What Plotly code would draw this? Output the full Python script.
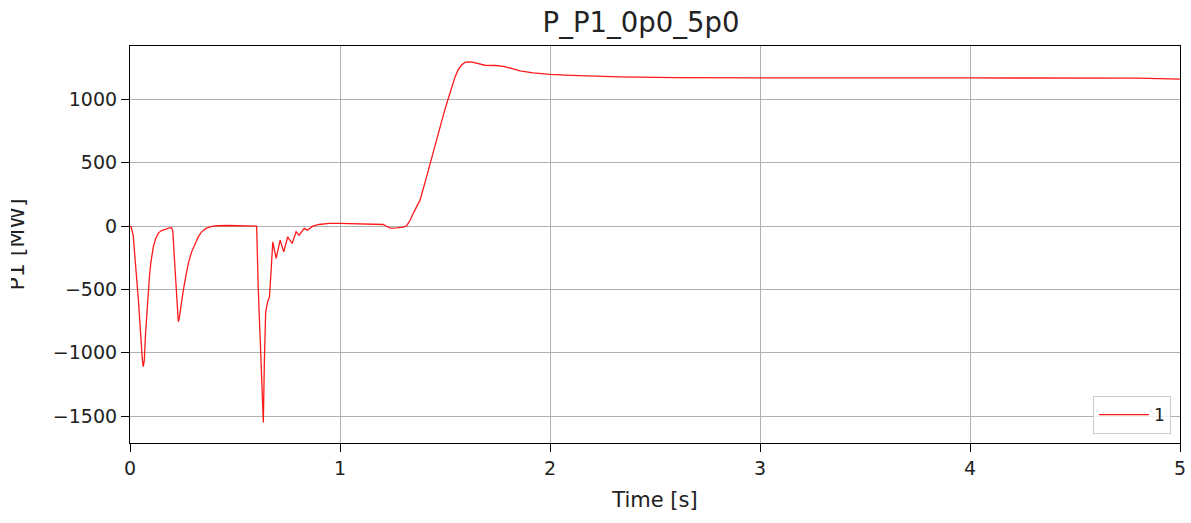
import plotly.graph_objects as go

# ---- data ----
time_s = [0.000, 0.005, 0.015, 0.024, 0.032, 0.040, 0.047, 0.053, 0.059, 0.063,
          0.068, 0.074, 0.080, 0.087, 0.093, 0.099, 0.105, 0.111, 0.122, 0.135,
          0.150, 0.167, 0.185, 0.198, 0.204, 0.211, 0.219, 0.225, 0.230, 0.235,
          0.244, 0.254, 0.266, 0.278, 0.293, 0.310, 0.325, 0.341, 0.362, 0.389,
          0.420, 0.470, 0.595, 0.603, 0.611, 0.620, 0.628, 0.635, 0.640, 0.646,
          0.655, 0.664, 0.672, 0.680, 0.696, 0.715, 0.732, 0.751, 0.772, 0.791,
          0.805, 0.830, 0.845, 0.870, 0.900, 0.950, 1.000, 1.100, 1.206, 1.225,
          1.240, 1.270, 1.300, 1.317, 1.335, 1.350, 1.365, 1.381, 1.405, 1.429,
          1.452, 1.476, 1.496, 1.516, 1.532, 1.548, 1.563, 1.579, 1.595, 1.611,
          1.630, 1.651, 1.670, 1.690, 1.740, 1.778, 1.820, 1.857, 1.920, 2.000,
          2.100, 2.175, 2.333, 2.600, 3.000, 4.000, 4.800, 5.000]
p1_mw = [0, -5, -70, -242, -420, -584, -760, -930, -1060, -1110,
         -1060, -850, -680, -505, -390, -292, -220, -163, -100, -55,
         -35, -24, -15, -12, -40, -242, -505, -680, -755, -720,
         -610, -505, -395, -292, -205, -134, -85, -45, -18, -2,
         3, 5, 5, 0, -505, -900, -1250, -1550, -1050, -680,
         -600, -560, -350, -124, -255, -110, -203, -84, -137, -45,
         -71, -18, -32, 0, 13, 21, 21, 16, 13, -5,
         -16, -14, -8, 2, 50, 105, 150, 205, 345, 495,
         640, 784, 900, 1010, 1100, 1178, 1235, 1272, 1292, 1297,
         1295, 1285, 1275, 1270, 1268, 1262, 1243, 1226, 1210, 1198,
         1190, 1185, 1178, 1173, 1170, 1170, 1168, 1160]

x_ticks = [0, 1, 2, 3, 4, 5]
y_ticks = [-1500, -1000, -500, 0, 500, 1000]
series_name = "1"
title_text = "P_P1_0p0_5p0"
x_title = "Time [s]"
y_title = "P1 [MW]"

FONT = "DejaVu Sans"

fig = go.Figure()
fig.add_trace(go.Scatter(
    x=time_s, y=p1_mw, mode="lines", name=series_name,
    line=dict(color="rgba(255,0,0,0.9)", width=1.3),
    showlegend=True,
))

L, R, T, B = 130, 11, 46, 80
W, H = 1191, 523
pw, ph = W - L - R, H - T - B

axis_common = dict(
    showline=True, linecolor="black", linewidth=1.2, mirror=True,
    ticks="outside", ticklen=8, tickwidth=1.2, tickcolor="black",
    showgrid=True, gridcolor="#b0b0b0", gridwidth=1,
    zeroline=False, automargin=False,
    tickfont=dict(family=FONT, size=19, color="#222"),
)

fig.update_layout(
    width=W, height=H,
    margin=dict(l=L, r=R, t=T, b=B, pad=0, autoexpand=False),
    paper_bgcolor="white", plot_bgcolor="white",
    font=dict(family=FONT, color="#222"),
    title=dict(text=title_text, x=641 / W, xref="container", xanchor="center",
               y=1 - 22 / H, yref="container", yanchor="middle",
               font=dict(family=FONT, size=27.5, color="#222")),
    xaxis=dict(range=[0, 5], tickvals=x_ticks, ticktext=[str(v) for v in x_ticks],
               title=dict(text=x_title, font=dict(family=FONT, size=21, color="#222"),
                          standoff=14),
               **axis_common),
    yaxis=dict(range=[-1712, 1422], tickvals=y_ticks,
               ticktext=[("\u2212" + str(-v)) if v < 0 else str(v) for v in y_ticks],
               **axis_common),
    legend=dict(x=1 - 9 / pw, xanchor="right", y=9 / ph, yanchor="bottom",
                bgcolor="rgba(255,255,255,0.8)", bordercolor="#cccccc", borderwidth=1,
                itemwidth=50,
                font=dict(family=FONT, size=17, color="#222")),
    showlegend=True,
)

# y-axis title (partly cut at the left edge, as in the reference)
fig.add_annotation(
    text=y_title, textangle=-90, showarrow=False,
    xref="paper", yref="paper",
    x=(16.5 - L) / pw, y=(H - B - 245) / ph,
    xanchor="center", yanchor="middle",
    font=dict(family=FONT, size=22, color="#222"),
)
fig.add_annotation(
    text=" ", showarrow=False, xref="paper", yref="paper",
    x=(0 - L) / pw, y=(H - B - 245) / ph, xanchor="left", yanchor="middle",
    width=11, height=140, bgcolor="white", borderpad=0, borderwidth=0,
)

fig.write_html("out.html", config={"displayModeBar": False},
               post_script="document.body.style.margin='0';document.body.style.overflow='hidden';")
